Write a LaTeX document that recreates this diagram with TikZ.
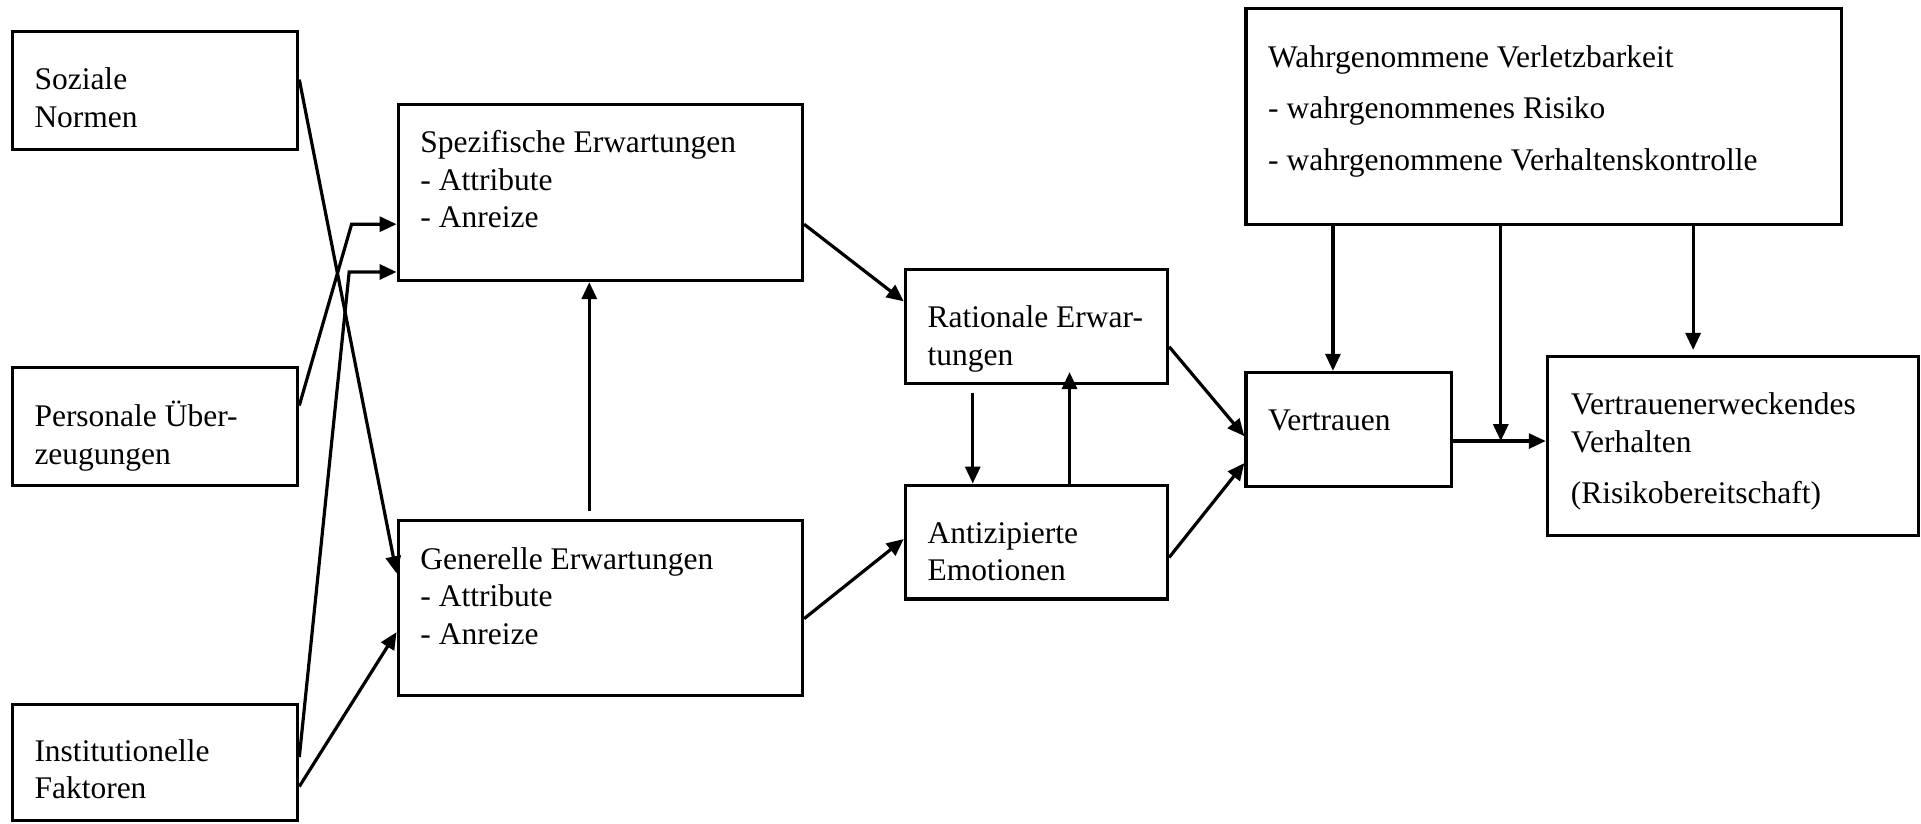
\documentclass[tikz,border=0pt]{standalone}
\usepackage{fontspec}
\setmainfont{Liberation Serif}
\usetikzlibrary{arrows.meta,fit,calc}
\begin{document}
\begin{tikzpicture}[x=1.2251pt,y=-1.2251pt,
  box/.style={draw,line width=3.2pt,inner sep=0pt,rectangle},
  txt/.style={anchor=base west,align=left,inner sep=0pt,font=\fontsize{31.5}{37.5}\selectfont},
  arr/.style={line width=3.2pt,-{Triangle[length=17pt,width=15pt]}},
  ln/.style={line width=3.2pt}]
\useasboundingbox (0,0) rectangle (1568,672);
% boxes
\node[box,fit={(10,26) (243,122)}] (soz) {};
\node[box,fit={(10,300) (243,396)}] (pers) {};
\node[box,fit={(10,575) (243,670)}] (inst) {};
\node[box,fit={(325,85) (655,229)}] (spez) {};
\node[box,fit={(325,425) (655,568)}] (gen) {};
\node[box,fit={(739,220) (953,313)}] (rat) {};
\node[box,fit={(739,396) (953,489)}] (ant) {};
\node[box,fit={(1017,7) (1503,183)}] (wahr) {};
\node[box,fit={(1017,304) (1185,397)}] (ver) {};
\node[box,fit={(1263,291) (1566,437)}] (vev) {};
% texts (anchor = baseline of the last line)
\node[txt] (soz-t) at (28,104) {Soziale\\Normen};
\node[txt] (pers-t) at (28,379) {Personale Über-\\zeugungen};
\node[txt] (inst-t) at (28,652) {Institutionelle\\Faktoren};
\node[txt] (spez-t) at (343,186) {Spezifische Erwartungen\\- Attribute\\- Anreize};
\node[txt] (gen-t) at (343,526) {Generelle Erwartungen\\- Attribute\\- Anreize};
\node[txt] (rat-t) at (757,298) {Rationale Erwar-\\tungen};
\node[txt] (ant-t) at (757,474) {Antizipierte\\Emotionen};
\node[txt] (wahr-t) at (1035,139) {Wahrgenommene Verletzbarkeit\\[14pt]- wahrgenommenes Risiko\\[14pt]- wahrgenommene Verhaltenskontrolle};
\node[txt] (ver-t) at (1035,351) {Vertrauen};
\node[txt] (vev-t) at (1282,411) {Vertrauenerweckendes\\Verhalten\\[14pt](Risikobereitschaft)};
% bend points
\coordinate (b1) at (287,183);
\coordinate (b2) at (285,222);
\coordinate (jn) at (1225,360);
% connectors
\draw[arr] (soz.east |- 0,65) -- (gen.west |- 0,468);
\draw[arr] (pers.east |- 0,331) -- (b1) -- (spez.west |- 0,183);
\draw[arr] (inst.east |- 0,618) -- (b2) -- (spez.west |- 0,222);
\draw[arr] (inst.east |- 0,642) -- (gen.west |- 0,516);
\draw[arr,shorten <=8pt] (gen.north -| 481,0) -- (spez.south -| 481,0);
\draw[arr] (spez.east |- 0,183) -- (rat.west |- 0,246);
\draw[arr] (gen.east |- 0,505) -- (ant.west |- 0,440);
\draw[arr,shorten <=8pt] (rat.south -| 794,0) -- (ant.north -| 794,0);
\draw[arr,shorten >=-13pt] (ant.north -| 873,0) -- (rat.south -| 873,0);
\draw[arr] (rat.east |- 0,283) -- (ver.west |- 0,356);
\draw[arr] (ant.east |- 0,455) -- (ver.west |- 0,378);
\draw[arr] (wahr.south -| 1088,0) -- (ver.north -| 1088,0);
\draw[arr] (wahr.south -| 1225,0) -- (jn);
\draw[arr,shorten >=5pt] (wahr.south -| 1382,0) -- (vev.north -| 1382,0);
\draw[arr] (ver.east |- 0,360) -- (vev.west |- 0,360);
\end{tikzpicture}
\end{document}
